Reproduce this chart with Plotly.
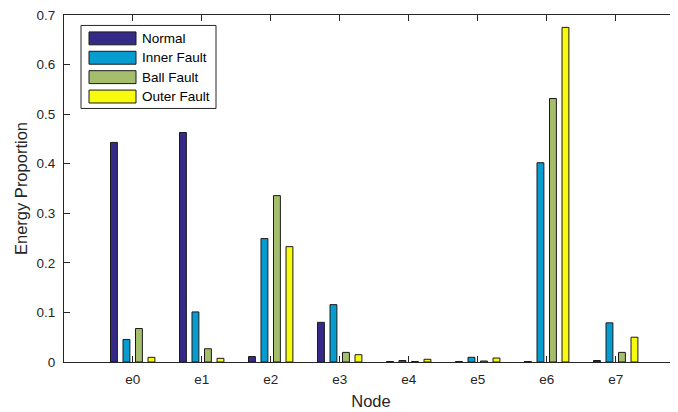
import plotly.graph_objects as go

categories = ["e0", "e1", "e2", "e3", "e4", "e5", "e6", "e7"]
series_names = ["Normal", "Inner Fault", "Ball Fault", "Outer Fault"]
normal = [0.443, 0.463, 0.011, 0.080, 0.001, 0.001, 0.001, 0.003]
inner = [0.0455, 0.101, 0.249, 0.1157, 0.003, 0.0095, 0.402, 0.079]
ball = [0.0675, 0.0267, 0.3356, 0.0194, 0.001, 0.002, 0.5315, 0.0194]
outer = [0.0094, 0.0074, 0.2327, 0.0147, 0.0055, 0.008, 0.675, 0.050]
y_ticks = [0, 0.1, 0.2, 0.3, 0.4, 0.5, 0.6, 0.7]
y_tick_labels = ["0", "0.1", "0.2", "0.3", "0.4", "0.5", "0.6", "0.7"]

colors = ["#352a87", "#079cd0", "#a5be6b", "#f9fb0e"]
values = [normal, inner, ball, outer]
FONT = "Liberation Sans, Arial, sans-serif"
TXT = "#262626"

OFF = 8  # default body margin of the html page
# desired plot area in window pixels
WL, WR, WT, WB = 64, 678, 13, 362
W = 678 - OFF
H = 412 - OFF
L, T = WL - OFF, WT - OFF
R = W - (WR - OFF)
B = H - (WB - OFF)
PW, PH = W - L - R, H - T - B

def px(x):
    return (x - WL) / PW

def py(y):
    return (WB - y) / PH

fig = go.Figure()
idx = list(range(len(categories)))
for name, vals, c in zip(series_names, values, colors):
    fig.add_trace(go.Bar(
        x=idx, y=vals, name=name,
        marker=dict(color=c, line=dict(color="#1a1a1a", width=1)),
        showlegend=False,
    ))

# custom MATLAB-style legend
shapes = [dict(type="rect", xref="paper", yref="paper",
               x0=px(81), x1=px(216), y0=py(107), y1=py(23.5),
               line=dict(color="#262626", width=1), fillcolor="white", layer="above")]
annotations = []
row_y = [36.5, 56, 75.5, 95]
for name, c, ry in zip(series_names, colors, row_y):
    shapes.append(dict(type="rect", xref="paper", yref="paper",
                       x0=px(89), x1=px(136), y0=py(ry + 6.5), y1=py(ry - 6.5),
                       line=dict(color="#1a1a1a", width=1), fillcolor=c, layer="above"))
    annotations.append(dict(xref="paper", yref="paper", x=px(140), y=py(ry),
                            text=name, showarrow=False, xanchor="left", yanchor="middle",
                            font=dict(family=FONT, size=13.5, color="black")))

span = PW / 69.0
x0 = -(132.7 - WL) / 69.0
fig.update_layout(
    width=W, height=H,
    margin=dict(l=L, r=R, t=T, b=B, pad=0),
    paper_bgcolor="white", plot_bgcolor="white",
    barmode="group", bargap=0.275, bargroupgap=0.45,
    font=dict(family=FONT, color=TXT),
    shapes=shapes, annotations=annotations,
    xaxis=dict(
        range=[x0, x0 + span], tickmode="array", tickvals=idx, ticktext=categories,
        ticks="inside", ticklen=6, tickwidth=1, tickcolor=TXT,
        showline=True, linecolor=TXT, linewidth=1, mirror="ticks",
        showgrid=False, zeroline=False, ticklabelstandoff=5,
        tickfont=dict(family=FONT, size=13.5, color=TXT),
        title=dict(text="Node", font=dict(family=FONT, size=16.5, color=TXT), standoff=9),
    ),
    yaxis=dict(
        range=[0, 0.7], tickmode="array", tickvals=y_ticks, ticktext=y_tick_labels,
        ticks="inside", ticklen=6, tickwidth=1, tickcolor=TXT,
        showline=True, linecolor=TXT, linewidth=1,
        showgrid=False, zeroline=False, ticklabelstandoff=5,
        ticklabeloverflow="allow",
        tickfont=dict(family=FONT, size=13.5, color=TXT),
        title=dict(text="Energy Proportion", font=dict(family=FONT, size=16.5, color=TXT), standoff=4),
    ),
)

fig.write_html("out.html")
